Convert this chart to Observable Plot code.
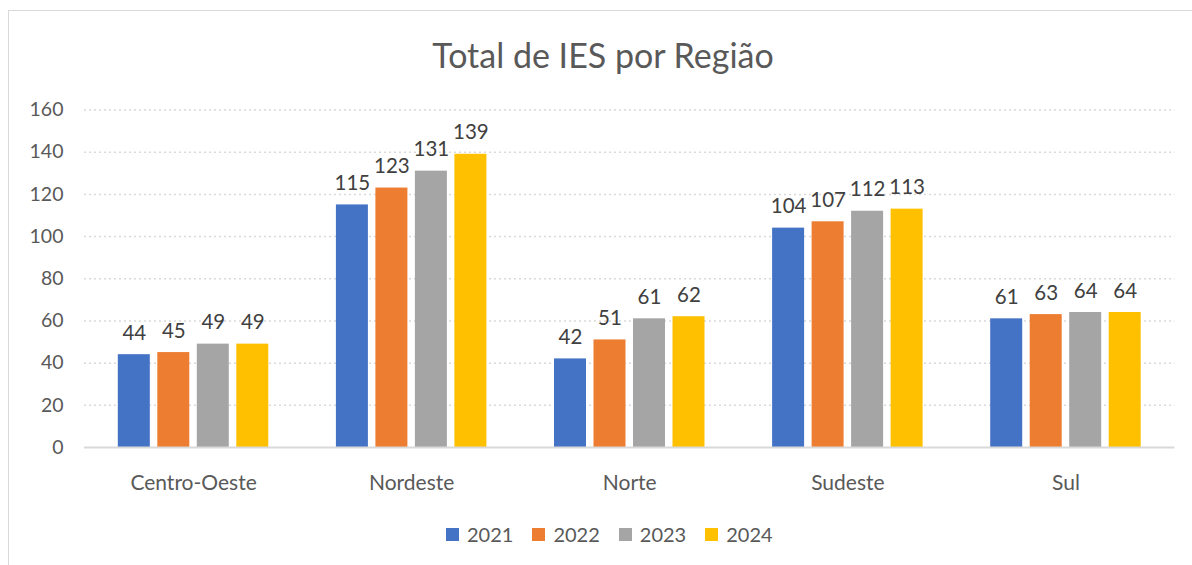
<!DOCTYPE html>
<html><head><meta charset="utf-8">
<script src="https://cdn.jsdelivr.net/npm/d3@7"></script>
<script src="https://cdn.jsdelivr.net/npm/@observablehq/plot@0.6"></script>
<style>
body{margin:0;background:#fff;font-family:Lato,sans-serif;}
#wrap{position:relative;width:1192px;height:565px;overflow:hidden;background:#fff}
#border{position:absolute;left:8px;top:10px;width:1250px;height:600px;border:1.5px solid #d9d9d9;box-sizing:border-box}
#title{position:absolute;top:38px;left:0;width:1206px;text-align:center;font-size:34px;color:#595959;line-height:1}
#chart{position:absolute;top:90px;left:0;width:1192px;height:420px}
#chart svg{position:absolute;left:0;top:0}
#legend{position:absolute;top:523px;left:446px;display:flex;align-items:center;font-size:20px;color:#595959;line-height:22px}
#legend .it{display:flex;align-items:center;margin-right:19px}
#legend .sw{width:13px;height:13px;margin-right:8px}
</style>
</head><body>
<div id="wrap">
<div id="border"></div>
<div id="title">Total de IES por Região</div>
<div id="chart"></div>
<div id="legend"></div>
</div>
<script>
const regions = ["Centro-Oeste", "Nordeste", "Norte", "Sudeste", "Sul"];
const years = ["2021", "2022", "2023", "2024"];
const v2021 = [44, 115, 42, 104, 61];
const v2022 = [45, 123, 51, 107, 63];
const v2023 = [49, 131, 61, 112, 64];
const v2024 = [49, 139, 62, 113, 64];
const yTicks = [0, 20, 40, 60, 80, 100, 120, 140, 160];
const colors = ["#4472C4", "#ED7D31", "#A5A5A5", "#FFC000"];

const series = [v2021, v2022, v2023, v2024];
const data = [];
regions.forEach((r, i) => years.forEach((y, j) => data.push({region: r, year: y, value: series[j][i]})));

const common = {
  width: 1192, height: 420,
  marginLeft: 84, marginRight: 17.5, marginTop: 19.5, marginBottom: 63,
  style: {fontFamily: "Lato, sans-serif", fontSize: "19.5px", color: "#595959", background: "transparent"},
  y: {domain: [0, 160], label: null}
};

// background: gridlines, y axis
const back = Plot.plot({
  ...common,
  marks: [
    Plot.ruleY(yTicks.filter(d => d > 0), {stroke: "#d9d9d9", strokeWidth: 1.5, strokeDasharray: "2,3"}),
    Plot.axisY({ticks: yTicks, tickSize: 0, tickPadding: 21, label: null, fill: "#595959"})
  ]
});

// foreground: grouped bars
const front = Plot.plot({
  ...common,
  fx: {domain: regions, paddingInner: 0.31, paddingOuter: 0.155, round: false, label: null},
  x: {domain: years, paddingInner: 0.19, paddingOuter: 0, round: false, axis: null},
  color: {domain: years, range: colors},
  marks: [
    Plot.axisY({ticks: [], label: null}),
    Plot.axisFx({anchor: "bottom", tickSize: 0, tickPadding: 28, label: null, fill: "#595959", fontSize: 21}),
    Plot.barY(data, {fx: "region", x: "year", y: "value", fill: "year"}),
    Plot.text(data, {fx: "region", x: "year", y: "value", text: d => String(d.value), dy: -15, lineAnchor: "bottom", fill: "#404040", fontSize: 20.5})
  ]
});

// baseline on top
const base = Plot.plot({
  ...common,
  marks: [
    Plot.axisY({ticks: [], label: null}),
    Plot.ruleY([0], {stroke: "#d9d9d9", strokeWidth: 2})
  ]
});

const host = document.getElementById("chart");
host.appendChild(back);
host.appendChild(front);
host.appendChild(base);

const legend = document.getElementById("legend");
years.forEach((y, i) => {
  const it = document.createElement("div"); it.className = "it";
  const sw = document.createElement("div"); sw.className = "sw"; sw.style.background = colors[i];
  const t = document.createElement("span"); t.textContent = y;
  it.appendChild(sw); it.appendChild(t); legend.appendChild(it);
});
</script>
</body></html>
